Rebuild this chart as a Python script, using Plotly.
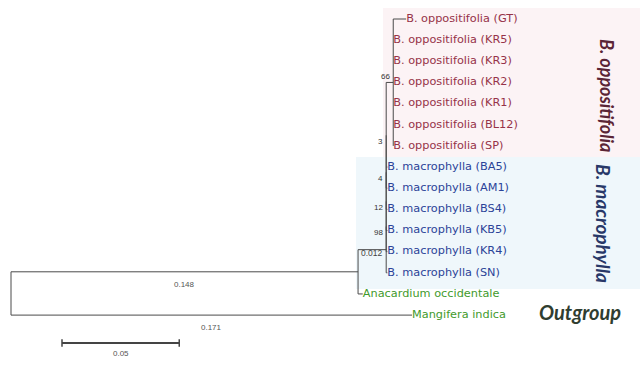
import plotly.graph_objects as go

# ---------------- data ----------------
taxa = [
    "B. oppositifolia (GT)", "B. oppositifolia (KR5)", "B. oppositifolia (KR3)",
    "B. oppositifolia (KR2)", "B. oppositifolia (KR1)", "B. oppositifolia (BL12)",
    "B. oppositifolia (SP)",
    "B. macrophylla (BA5)", "B. macrophylla (AM1)", "B. macrophylla (BS4)",
    "B. macrophylla (KB5)", "B. macrophylla (KR4)", "B. macrophylla (SN)",
    "Anacardium occidentale", "Mangifera indica",
]
groups = ["opp"] * 7 + ["mac"] * 6 + ["out"] * 2

# tree: leaf = (taxon index, branch length); internal = (support, branch length, [children])
opp_clade = ("66", 0.003, [(0, 0.0055), (1, 0.0), (2, 0.0), (3, 0.0), (4, 0.0), (5, 0.0), (6, 0.0)])
n_a = ("3", 0.0, [opp_clade, (7, 0.0005), (8, 0.0005)])
n_b = ("4", 0.0, [n_a, (9, 0.0005)])
n_c = ("12", 0.0, [n_b, (10, 0.0005)])
n_d = ("98", 0.0, [n_c, (11, 0.0005)])
n_e = ("", 0.012, [n_d, (12, 0.0005)])
n_1 = ("", 0.148, [n_e, (13, 0.002)])
tree = ("", 0.0, [n_1, (14, 0.171)])

branch_labels = [("0.148", 0.148), ("0.171", 0.171), ("0.012", 0.012)]
scale_len = 0.05
scale_label = "0.05"

group_titles = {"opp": "B. oppositifolia", "mac": "B. macrophylla", "out": "Outgroup"}
label_colors = {"opp": "#963248", "mac": "#2b4398", "out": "#3f9a2c"}
title_colors = {"opp": "#5b2536", "mac": "#283868", "out": "#2f3d30"}

# ---------------- layout of tree ----------------
PX_PER_UNIT = 2345.0
ROOT_PX = 11.0
ROW_PX = 21.15
TOP_PX = 19.0
W, H = 640, 369

seg_x, seg_y = [], []
leaf_pos = {}
nodes = []  # (support, x, y)
branch_mid = {}

def lay(node, x0):
    if isinstance(node[0], int):
        idx, bl = node
        x = x0 + bl
        y = float(idx)
        leaf_pos[idx] = (x, y)
        seg_x.extend([x0, x, None]); seg_y.extend([y, y, None])
        branch_mid[round(bl, 4)] = ((x0 + x) / 2.0, y)
        return y
    sup, bl, kids = node
    x = x0 + bl
    ys = [lay(k, x) for k in kids]
    y = (min(ys) + max(ys)) / 2.0
    seg_x.extend([x, x, None]); seg_y.extend([min(ys), max(ys), None])
    seg_x.extend([x0, x, None]); seg_y.extend([y, y, None])
    nodes.append((sup, x, y))
    branch_mid[round(bl, 4)] = ((x0 + x) / 2.0, y)
    return y

lay(tree, 0.0)

fig = go.Figure()

x_min = -ROOT_PX / PX_PER_UNIT
x_max = (W - ROOT_PX) / PX_PER_UNIT
y_top = -TOP_PX / ROW_PX
y_bot = (H - TOP_PX) / ROW_PX

def px_x(p):
    return (p - ROOT_PX) / PX_PER_UNIT

def px_y(p):
    return (p - TOP_PX) / ROW_PX

# background bands
fig.add_shape(type="rect", x0=px_x(383), x1=x_max, y0=px_y(8), y1=px_y(157),
              fillcolor="#fcf3f5", line_width=0, layer="below")
fig.add_shape(type="rect", x0=px_x(356), x1=x_max, y0=px_y(157), y1=px_y(289),
              fillcolor="#eff7fb", line_width=0, layer="below")

# branches
fig.add_trace(go.Scatter(x=seg_x, y=seg_y, mode="lines",
                         line=dict(color="#4a4a4a", width=1), hoverinfo="skip", showlegend=False))

# leaf labels
for g in ["opp", "mac", "out"]:
    idxs = [i for i in range(len(taxa)) if groups[i] == g]
    fig.add_trace(go.Scatter(
        x=[leaf_pos[i][0] for i in idxs], y=[leaf_pos[i][1] for i in idxs],
        mode="text", text=[taxa[i] for i in idxs], textposition="middle right",
        textfont=dict(family="DejaVu Sans", size=11.3, color=label_colors[g]),
        hoverinfo="skip", showlegend=False))

# support values
for sup, x, y in nodes:
    if sup:
        dy = -0.3 if sup == "66" else 0.3
        fig.add_annotation(x=x - 1.0 / PX_PER_UNIT, y=y + dy, text=sup, showarrow=False,
                           xanchor="right", yanchor="middle",
                           font=dict(family="Liberation Sans, Arial", size=8, color="#333333"))

# branch length labels
for txt, bl in branch_labels:
    bx, by = branch_mid[round(bl, 4)]
    if bl == 0.012:
        fig.add_annotation(x=bx, y=by + 0.15, text=txt, showarrow=False, yanchor="middle",
                           font=dict(family="Liberation Sans, Arial", size=8.5, color="#444444"))
    else:
        fig.add_annotation(x=bx, y=by + 0.3, text=txt, showarrow=False, yanchor="top",
                           font=dict(family="Liberation Sans, Arial", size=8, color="#555555"))

# scale bar
sx0 = px_x(62)
sy = px_y(343)
fig.add_trace(go.Scatter(x=[sx0, sx0 + scale_len], y=[sy, sy], mode="lines",
                         line=dict(color="#444444", width=2), hoverinfo="skip", showlegend=False))
for xx in [sx0, sx0 + scale_len]:
    fig.add_shape(type="line", x0=xx, x1=xx, y0=sy - 0.18, y1=sy + 0.18,
                  line=dict(color="#444444", width=1.5))
fig.add_annotation(x=sx0 + scale_len / 2, y=sy + 0.2, text=scale_label, showarrow=False,
                   yanchor="top", font=dict(family="Liberation Sans, Arial", size=8, color="#555555"))

# group titles
fig.add_annotation(x=px_x(607), y=px_y(95), text="<b><i>" + group_titles["opp"] + "</i></b>",
                   showarrow=False, textangle=90,
                   font=dict(family="Lato", size=18, color=title_colors["opp"]))
fig.add_annotation(x=px_x(604), y=px_y(223), text="<b><i>" + group_titles["mac"] + "</i></b>",
                   showarrow=False, textangle=90,
                   font=dict(family="Lato", size=19, color=title_colors["mac"]))
fig.add_annotation(x=px_x(580), y=px_y(312), text="<b><i>" + group_titles["out"] + "</i></b>",
                   showarrow=False,
                   font=dict(family="Lato", size=20, color=title_colors["out"]))

fig.update_layout(
    width=W, height=H, autosize=False,
    margin=dict(l=0, r=0, t=0, b=0),
    paper_bgcolor="white", plot_bgcolor="white",
    xaxis=dict(range=[x_min, x_max], visible=False, fixedrange=True),
    yaxis=dict(range=[y_bot, y_top], visible=False, fixedrange=True),
)

fig.write_html("out.html", config={"displayModeBar": False},
               post_script="document.body.style.margin='0px';")
